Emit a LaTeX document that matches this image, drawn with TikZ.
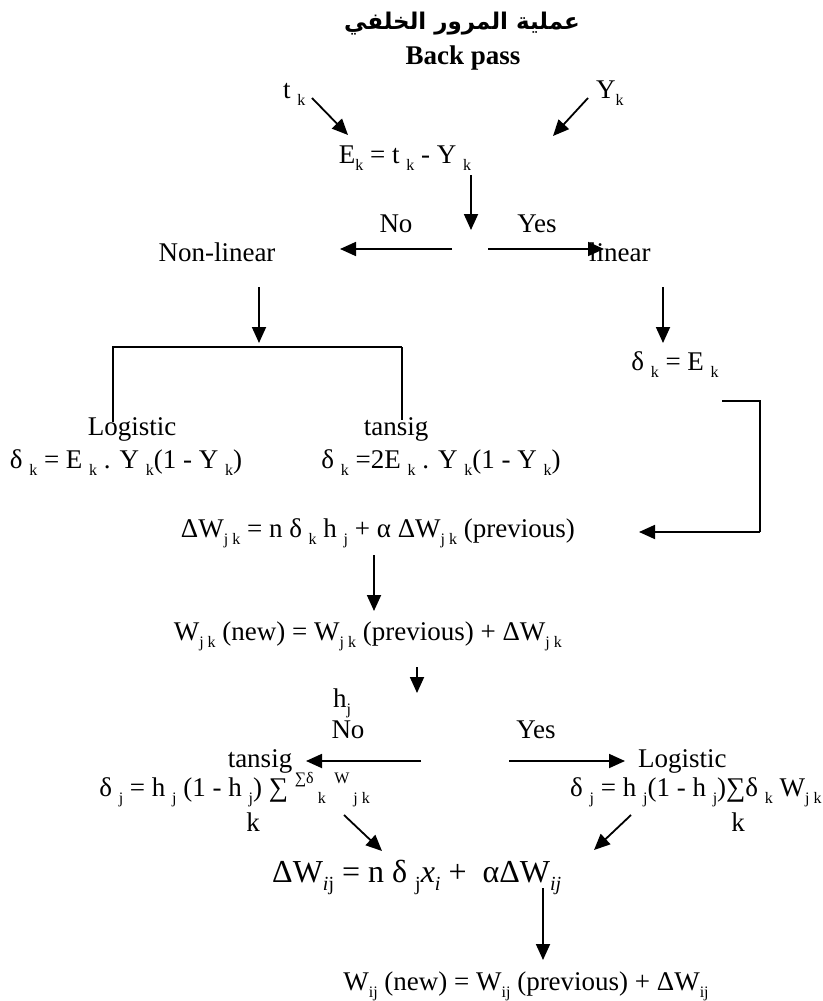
\documentclass[tikz,border=0pt]{standalone}
\usepackage{fontspec}
\setmainfont{Liberation Serif}
\newfontfamily\arabicfont[Script=Arabic]{DejaVu Sans}
\usetikzlibrary{arrows.meta}
\TeXXeTstate=1
% small lowered / raised indices
\newcommand{\sbs}[1]{\raisebox{-0.28em}{\fontsize{16}{16}\selectfont #1}}
\newcommand{\sps}[1]{\raisebox{0.45em}{\fontsize{16}{16}\selectfont #1}}
\newcommand{\bsbs}[1]{\raisebox{-0.28em}{\fontsize{20}{20}\selectfont #1}}

\begin{document}
\begin{tikzpicture}[x=1pt, y=-1pt,
		txt/.style={inner sep=0pt, font=\fontsize{27}{30}\selectfont},
		bigtxt/.style={inner sep=0pt, font=\fontsize{32}{36}\selectfont},
		arr/.style={line width=1.8pt, -{Triangle[length=16pt,width=14pt]}},
		rule/.style={line width=1.6pt}]
		
		\useasboundingbox (0,0) rectangle (822,1001);
		
		% Title
		\node[inner sep=0pt, font=\arabicfont\bfseries\fontsize{23}{27}\selectfont] (title) at (462,24) {\beginR عملية المرور الخلفي\endR};
		\node[txt, font=\fontsize{27}{30}\selectfont\bfseries, anchor=base] (back) at (463,64) {Back pass};
		
		% Output error
		\node[txt, anchor=base west] (tk) at (283,98) {t \sbs{k}};
		\node[txt, anchor=base west] (Yk) at (596,98) {Y\sbs{k}};
		\node[txt, anchor=base] (Ek) at (405,163) {E\sbs{k} = t \sbs{k} - Y \sbs{k}};
		\coordinate (tk1) at (312,98);  \coordinate (tk2) at (348,135);
		\coordinate (Yk1) at (588,98);  \coordinate (Yk2) at (553,136);
		\draw[arr] (tk1) -- (tk2);
		\draw[arr] (Yk1) -- (Yk2);
		
		% First decision
		\coordinate (Ed1) at (471,175); \coordinate (Ed2) at (471,230);
		\draw[arr] (Ed1) -- (Ed2);
		\node[txt, anchor=base] (no1) at (396,232) {No};
		\node[txt, anchor=base] (yes1) at (537,232) {Yes};
		\node[txt, anchor=base] (nonlin) at (217,261) {Non-linear};
		\node[txt, anchor=base west] (lin) at (589,261) {linear};
		\coordinate (nl1) at (452,249); \coordinate (nl2) at (340,249);
		\coordinate (li1) at (488,249); \coordinate (li2) at (604,249);
		\draw[arr] (nl1) -- (nl2);
		\draw[arr] (li1) -- (li2);
		
		% Non-linear branch
		\coordinate (nd1) at (259,287); \coordinate (nd2) at (259,343);
		\draw[arr] (nd1) -- (nd2);
		\coordinate (brL) at (112,347); \coordinate (brR) at (402,347);
		\draw[rule] (brL) -- (brR);
		\draw[line width=1.3pt] (113,347) -- (113,422);
		\draw[line width=1.3pt] (402,347) -- (402,420);
		\node[txt, anchor=base] (log1) at (132,435) {Logistic};
		\node[txt, anchor=base] (tan1) at (396,435) {tansig};
		\node[txt, anchor=base] (dklog) at (126,468) {δ \sbs{k} = E \sbs{k} . Y \sbs{k}(1 - Y \sbs{k})};
		\node[txt, anchor=base] (dktan) at (441,468) {δ \sbs{k} =2E \sbs{k} . Y \sbs{k}(1 - Y \sbs{k})};
		
		% Linear branch
		\coordinate (ld1) at (663,287); \coordinate (ld2) at (663,343);
		\draw[arr] (ld1) -- (ld2);
		\node[txt, anchor=base] (dk) at (675,370) {δ \sbs{k} = E \sbs{k}};
		\coordinate (rb1) at (722,401); \coordinate (rb2) at (760,532); \coordinate (rb3) at (639,532);
		\draw[rule] (rb1) -| (rb2);
		\draw[arr] (rb2) -- (rb3);
		
		% Output weights
		\node[txt, anchor=base east] (dwjk) at (575,537) {ΔW\sbs{j k} = n δ \sbs{k} h \sbs{j} + α ΔW\sbs{j k} (previous)};
		\coordinate (wd1) at (374,555); \coordinate (wd2) at (374,611);
		\draw[arr] (wd1) -- (wd2);
		\node[txt, anchor=base east] (wjk) at (562,640) {W\sbs{j k} (new) = W\sbs{j k} (previous) + ΔW\sbs{j k}};
		\coordinate (hd1) at (417,667); \coordinate (hd2) at (417,693);
		\draw[arr] (hd1) -- (hd2);
		
		% Hidden layer decision
		\node[txt, anchor=base] (hj) at (342,707) {h\sbs{j}};
		\node[txt, anchor=base] (no2) at (348,738) {No};
		\node[txt, anchor=base] (yes2) at (536,738) {Yes};
		\node[txt, anchor=base] (tan2) at (260,767) {tansig};
		\node[txt, anchor=base west] (log2) at (638,767) {Logistic};
		\coordinate (ht1) at (421,761); \coordinate (ht2) at (306,761);
		\coordinate (hl1) at (509,761); \coordinate (hl2) at (625,761);
		\draw[arr] (ht1) -- (ht2);
		\draw[arr] (hl1) -- (hl2);
		\node[txt, anchor=base east] (djtan) at (370,796) {δ \sbs{j} = h \sbs{j} (1 - h \sbs{j}) ∑ \sps{∑δ}\sbs{ k}\,\sps{ W}\sbs{ j k}};
		\node[txt, anchor=base] (k1) at (253,831) {k};
		\node[txt, anchor=base west] (djlog) at (570,796) {δ \sbs{j} = h \sbs{j}(1 - h \sbs{j})∑δ \sbs{k} W\sbs{j k}};
		\node[txt, anchor=base] (k2) at (738,831) {k};
		\coordinate (dl1) at (344,815); \coordinate (dl2) at (382,851);
		\coordinate (dr1) at (631,815); \coordinate (dr2) at (594,850);
		\draw[arr] (dl1) -- (dl2);
		\draw[arr] (dr1) -- (dr2);
		
		% Input weights
		\node[bigtxt, anchor=base west] (dwij) at (272,882) {ΔW\bsbs{\textit{i}j} = n δ \bsbs{j}\textit{x}\bsbs{\textit{i}} +\enspace αΔW\bsbs{\textit{ij}}};
		\coordinate (id1) at (543,888); \coordinate (id2) at (543,960);
		\draw[arr] (id1) -- (id2);
		\node[txt, anchor=base] (wij) at (526,990) {W\sbs{ij} (new) = W\sbs{ij} (previous) + ΔW\sbs{ij}};
		
	\end{tikzpicture}
\end{document}
